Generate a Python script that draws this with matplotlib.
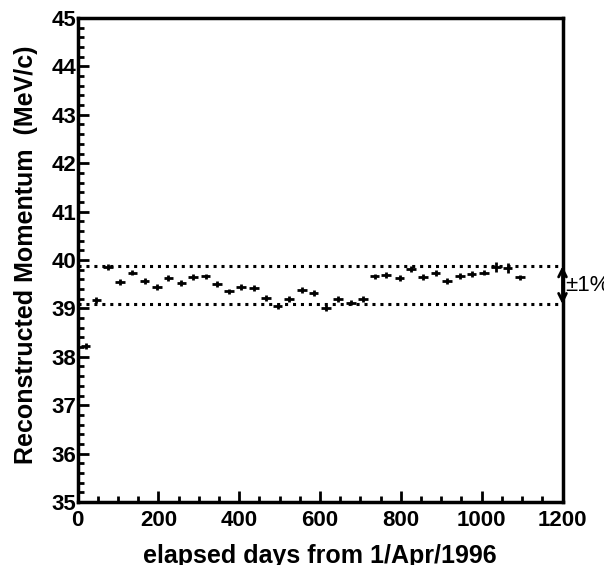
import matplotlib
matplotlib.use("Agg")
import matplotlib.pyplot as plt
import numpy as np

days = [20, 47, 76, 105, 136, 166, 196, 225, 257, 285, 317, 346, 374, 404, 437,
        466, 495, 523, 555, 584, 615, 644, 677, 706, 735, 764, 797, 826, 855, 886,
        915, 946, 975, 1006, 1035, 1064, 1095]
momentum = [38.22, 39.18, 39.85, 39.54, 39.74, 39.57, 39.45, 39.62, 39.52, 39.65,
            39.66, 39.50, 39.35, 39.45, 39.42, 39.21, 39.04, 39.19, 39.38, 39.32,
            39.00, 39.19, 39.12, 39.19, 39.66, 39.69, 39.63, 39.81, 39.65, 39.73,
            39.56, 39.67, 39.71, 39.74, 39.85, 39.83, 39.64]
yerr = [0.06] * 34 + [0.1, 0.1, 0.06]
xerr = [12] * 37
band_center = 39.48
band_pct = 0.01

plt.rcParams['font.family'] = ['Liberation Sans', 'DejaVu Sans']
W, H = 604, 565
fig = plt.figure(figsize=(W / 100, H / 100), dpi=100)
ax = fig.add_axes([77.5 / W, 1 - 502 / H, 485 / W, 484 / H])

ax.errorbar(days, momentum, xerr=xerr, yerr=yerr, fmt='none', ecolor='black',
            elinewidth=2, capsize=0)

hi = band_center * (1 + band_pct)
lo = band_center * (1 - band_pct)
ax.axhline(hi, color='black', linestyle=(0, (1, 1.6)), linewidth=2.2)
ax.axhline(lo, color='black', linestyle=(0, (1, 1.6)), linewidth=2.2)

ax.set_xlim(0, 1200)
ax.set_ylim(35, 45)
ax.set_xticks(np.arange(0, 1201, 200))
ax.set_xticks(np.arange(0, 1201, 50), minor=True)
ax.set_yticks(np.arange(35, 46, 1))
ax.set_yticks(np.arange(35, 45.01, 0.2), minor=True)
ax.tick_params(which='both', direction='in', top=False, right=False, width=2)
ax.tick_params(which='major', length=8, labelsize=16)
ax.tick_params(which='minor', length=4)
ax.tick_params(axis='x', which='major', pad=6)
ax.tick_params(axis='y', which='major', pad=1)
for lbl in ax.get_xticklabels() + ax.get_yticklabels():
    lbl.set_fontweight('bold')
for s in ax.spines.values():
    s.set_linewidth(2.5)

fig.text(320 / W, 1 - 563 / H, 'elapsed days from 1/Apr/1996', fontsize=18,
         fontweight='bold', ha='center', va='baseline')
fig.text(33 / W, 1 - 255 / H, 'Reconstructed Momentum  (MeV/c)', fontsize=18,
         fontweight='bold', ha='center', va='baseline', rotation=90,
         rotation_mode='anchor')

ax.annotate('', xy=(1200, hi), xytext=(1200, lo),
            arrowprops=dict(arrowstyle='<->', color='black', lw=2, mutation_scale=14,
                            shrinkA=0, shrinkB=0),
            annotation_clip=False)
ax.text(1208, band_center, '±1%', fontsize=16, va='center', ha='left',
        clip_on=False)

fig.savefig('out.png', dpi=100)
